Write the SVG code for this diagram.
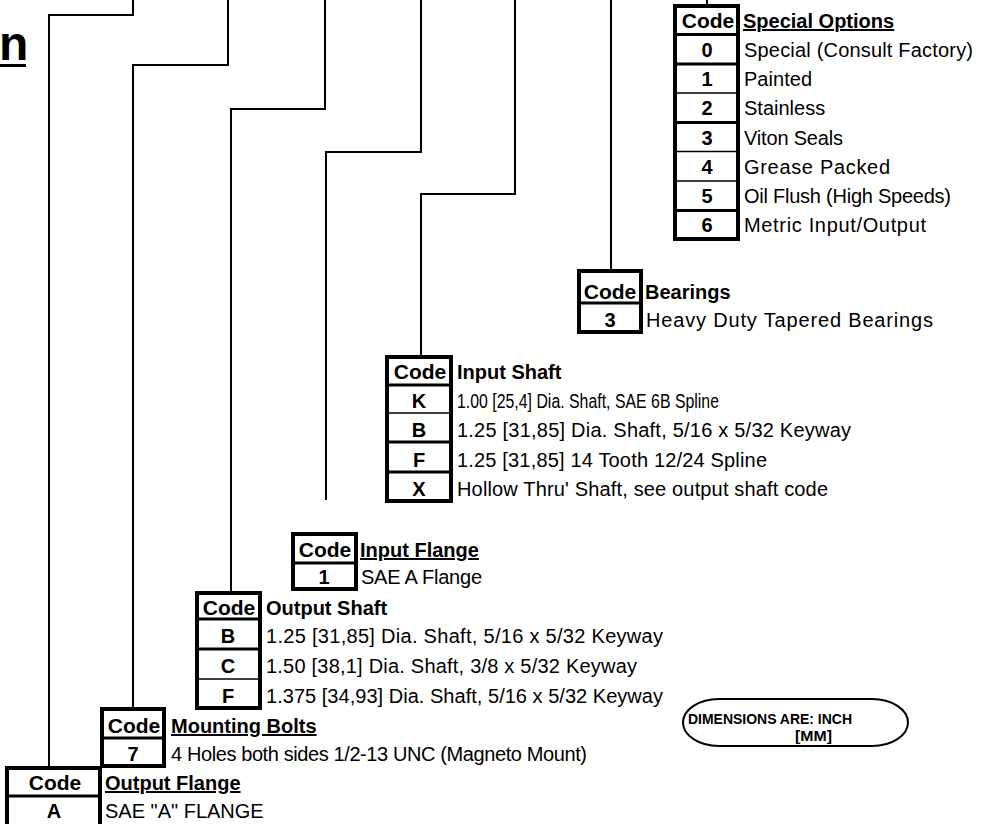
<svg xmlns="http://www.w3.org/2000/svg" width="987" height="824" viewBox="0 0 987 824">
<style>
.bg{fill:#fff}
.conn{fill:none;stroke:#000;stroke-width:2}
.box{fill:#fff;stroke:#000;stroke-width:4}
.sep{stroke:#000;stroke-width:3}
.sept{stroke:#000;stroke-width:1.5}
.hd{font-family:"Liberation Sans",Arial,sans-serif;font-weight:bold;font-size:21px;text-anchor:middle;fill:#000}
.cd{font-family:"Liberation Sans",Arial,sans-serif;font-weight:bold;font-size:20px;text-anchor:middle;fill:#000}
.tt{font-family:"Liberation Sans",Arial,sans-serif;font-weight:bold;font-size:20px;fill:#000}
.u{text-decoration:underline}
.tx{font-family:"Liberation Sans",Arial,sans-serif;font-size:20px;fill:#000}
.dim{font-family:"Liberation Sans",Arial,sans-serif;font-weight:bold;font-size:15px;fill:#000}
</style>
<rect class="bg" x="0" y="0" width="987" height="824"/>
<g id="title">
<text x="-1" y="60" style="font-family:'Liberation Sans',Arial,sans-serif;font-weight:bold;font-size:48px">n</text>
<rect x="0" y="64" width="26" height="3" fill="#000"/>
</g>
<g id="connectors">
<path class="conn" d="M133,0 V15 H49 V766"/>
<path class="conn" d="M228,0 V65 H133 V707"/>
<path class="conn" d="M325,0 V109 H231 V591"/>
<path class="conn" d="M421,0 V152 H326 V500"/>
<path class="conn" d="M515,0 V194 H421 V355"/>
<path class="conn" d="M611,0 V269"/>
<path class="conn" d="M707,0 V5"/>
</g>
<g id="special-options">
<rect class="box" x="675" y="6" width="63" height="233"/>
<line class="sep" x1="675" y1="34.5" x2="738" y2="34.5"/>
<line class="sep" x1="675" y1="64" x2="738" y2="64"/>
<line class="sept" x1="675" y1="93" x2="738" y2="93"/>
<line class="sep" x1="675" y1="122.5" x2="738" y2="122.5"/>
<line class="sept" x1="675" y1="151.5" x2="738" y2="151.5"/>
<line class="sept" x1="675" y1="181" x2="738" y2="181"/>
<line class="sep" x1="675" y1="210.5" x2="738" y2="210.5"/>
<text class="hd" x="708" y="28">Code</text>
<text class="tt u" x="743" y="28">Special Options</text>
<text class="cd" x="707" y="57">0</text>
<text class="cd" x="707" y="86">1</text>
<text class="cd" x="707" y="115">2</text>
<text class="cd" x="707" y="145">3</text>
<text class="cd" x="707" y="174">4</text>
<text class="cd" x="707" y="203">5</text>
<text class="cd" x="707" y="232">6</text>
<text class="tx" x="744" y="57" textLength="229">Special (Consult Factory)</text>
<text class="tx" x="744" y="86" textLength="68">Painted</text>
<text class="tx" x="744" y="115">Stainless</text>
<text class="tx" x="744" y="145" textLength="99">Viton Seals</text>
<text class="tx" x="744" y="174" textLength="146">Grease Packed</text>
<text class="tx" x="744" y="203" textLength="207">Oil Flush (High Speeds)</text>
<text class="tx" x="744" y="232" textLength="182">Metric Input/Output</text>
</g>
<g id="bearings">
<rect class="box" x="579" y="271" width="62" height="61"/>
<line class="sep" x1="579" y1="303" x2="641" y2="303"/>
<text class="hd" x="610" y="299">Code</text>
<text class="tt" x="645" y="299">Bearings</text>
<text class="cd" x="610" y="327">3</text>
<text class="tx" x="646" y="327" textLength="287">Heavy Duty Tapered Bearings</text>
</g>
<g id="input-shaft">
<rect class="box" x="387" y="357" width="64" height="144"/>
<line class="sep" x1="387" y1="385" x2="451" y2="385"/>
<line class="sept" x1="387" y1="413" x2="451" y2="413"/>
<line class="sep" x1="387" y1="442" x2="451" y2="442"/>
<line class="sep" x1="387" y1="472" x2="451" y2="472"/>
<text class="hd" x="420" y="379">Code</text>
<text class="tt" x="457" y="379">Input Shaft</text>
<text class="cd" x="419" y="408">K</text>
<text class="cd" x="419" y="437">B</text>
<text class="cd" x="419" y="467">F</text>
<text class="cd" x="419" y="496">X</text>
<text class="tx" x="457" y="408" textLength="262" lengthAdjust="spacingAndGlyphs">1.00 [25,4] Dia. Shaft, SAE 6B Spline</text>
<text class="tx" x="457" y="437" textLength="394">1.25 [31,85] Dia. Shaft, 5/16 x 5/32 Keyway</text>
<text class="tx" x="457" y="467" textLength="310">1.25 [31,85] 14 Tooth 12/24 Spline</text>
<text class="tx" x="457" y="496" textLength="371">Hollow Thru' Shaft, see output shaft code</text>
</g>
<g id="input-flange">
<rect class="box" x="293" y="534" width="63" height="55"/>
<line class="sep" x1="293" y1="563" x2="356" y2="563"/>
<text class="hd" x="325" y="557">Code</text>
<text class="tt u" x="360" y="557">Input Flange</text>
<text class="cd" x="324" y="584">1</text>
<text class="tx" x="361" y="584" textLength="121">SAE A Flange</text>
</g>
<g id="output-shaft">
<rect class="box" x="197" y="593" width="63" height="115"/>
<line class="sep" x1="197" y1="619" x2="260" y2="619"/>
<line class="sep" x1="197" y1="649" x2="260" y2="649"/>
<line class="sept" x1="197" y1="679" x2="260" y2="679"/>
<text class="hd" x="229" y="615">Code</text>
<text class="tt" x="266" y="615">Output Shaft</text>
<text class="cd" x="228" y="643">B</text>
<text class="cd" x="228" y="673">C</text>
<text class="cd" x="228" y="703">F</text>
<text class="tx" x="266" y="643" textLength="397">1.25 [31,85] Dia. Shaft, 5/16 x 5/32 Keyway</text>
<text class="tx" x="266" y="673" textLength="371">1.50 [38,1] Dia. Shaft, 3/8 x 5/32 Keyway</text>
<text class="tx" x="266" y="703" textLength="397">1.375 [34,93] Dia. Shaft, 5/16 x 5/32 Keyway</text>
</g>
<g id="mounting-bolts">
<rect class="box" x="102" y="709" width="62" height="57"/>
<line class="sep" x1="102" y1="738" x2="164" y2="738"/>
<text class="hd" x="134" y="733">Code</text>
<text class="tt u" x="171" y="733">Mounting Bolts</text>
<text class="cd" x="133" y="761">7</text>
<text class="tx" x="171" y="761" textLength="416">4 Holes both sides 1/2-13 UNC (Magneto Mount)</text>
</g>
<g id="output-flange">
<rect class="box" x="7" y="768" width="93" height="70"/>
<line class="sep" x1="7" y1="796" x2="100" y2="796"/>
<text class="hd" x="55" y="790">Code</text>
<text class="tt u" x="105" y="790">Output Flange</text>
<text class="cd" x="54" y="818">A</text>
<text class="tx" x="105" y="818">SAE "A" FLANGE</text>
</g>
<g id="dimensions">
<rect x="683" y="699" width="225" height="47" rx="36" ry="23.5" fill="none" stroke="#000" stroke-width="2"/>
<text class="dim" x="688" y="724" textLength="164" lengthAdjust="spacingAndGlyphs">DIMENSIONS ARE: INCH</text>
<text class="dim" x="795" y="741" textLength="37" lengthAdjust="spacingAndGlyphs">[MM]</text>
</g>
</svg>
